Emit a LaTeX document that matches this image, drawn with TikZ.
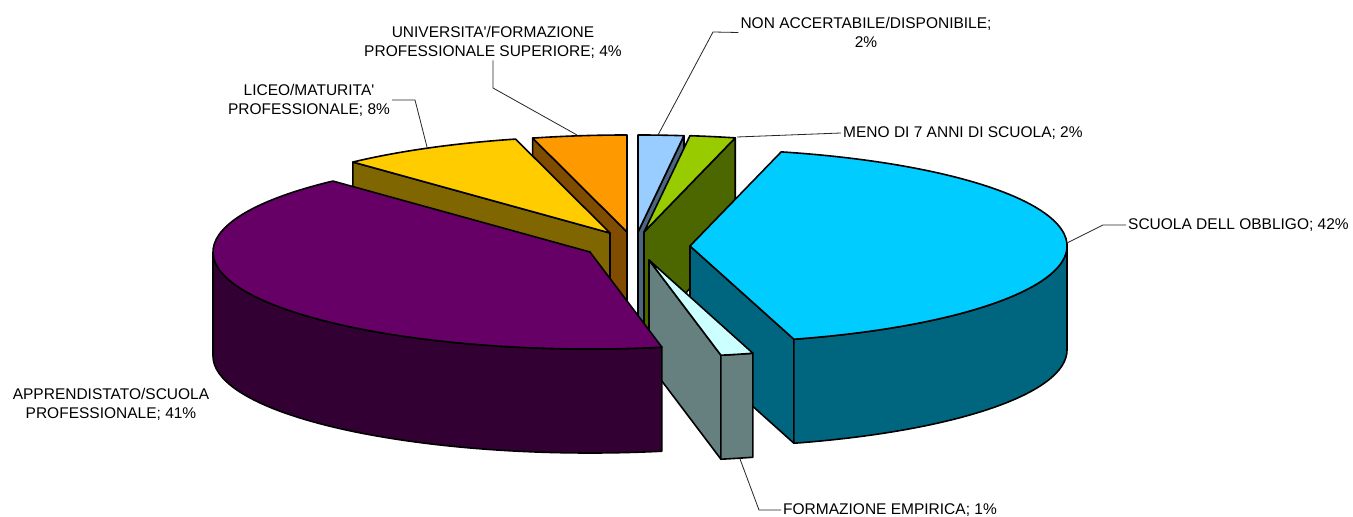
\documentclass[tikz,border=0pt]{standalone}
\usepackage{fontspec}
\setmainfont{Liberation Sans}
\usetikzlibrary{positioning}

\definecolor{topNO}{HTML}{99CCFF}
\definecolor{sideNO}{HTML}{4C6680}
\definecolor{topME}{HTML}{99CC00}
\definecolor{sideME}{HTML}{4C6600}
\definecolor{topSC}{HTML}{00CCFF}
\definecolor{sideSC}{HTML}{006680}
\definecolor{topEM}{HTML}{CCFFFF}
\definecolor{sideEM}{HTML}{668080}
\definecolor{topAP}{HTML}{660066}
\definecolor{sideAP}{HTML}{330033}
\definecolor{topLI}{HTML}{FFCC00}
\definecolor{sideLI}{HTML}{806600}
\definecolor{topUN}{HTML}{FF9900}
\definecolor{sideUN}{HTML}{804C00}

\tikzset{
  face/.style={draw=black, line width=1.6pt, line join=round},
  lbl/.style={inner sep=2pt, align=center, font=\fontsize{15.5}{19}\selectfont},
  leader/.style={draw=black!85, line width=0.8pt},
}

\newcommand\topface[3]{\filldraw[face, fill=#3] (0,0) -- (#1:377 and 97) arc[start angle=#1, end angle=#2, x radius=377, y radius=97] -- cycle;}
\newcommand\radface[2]{\filldraw[face, fill=#2] (0,0) -- (#1:377 and 97) -- ++(0,-104) -- (0,-104) -- cycle;}
\newcommand\rimface[3]{\filldraw[face, fill=#3] (#1:377 and 97) arc[start angle=#1, end angle=#2, x radius=377, y radius=97] -- ++(0,-104) arc[start angle=#2, end angle=#1, x radius=377, y radius=97] -- cycle;}

\begin{document}
\begin{tikzpicture}[x=1pt, y=1pt]
\path[use as bounding box, fill=white] (0,0) rectangle (1353,517);

% slices, back to front
\begin{scope}[shift={(638,285)}]
\radface{83}{sideNO}
\topface{83}{90}{topNO}
\end{scope}
\begin{scope}[shift={(627,285)}]
\radface{104.5}{sideUN}
\topface{90}{104.5}{topUN}
\end{scope}
\begin{scope}[shift={(610,284)}]
\radface{133}{sideLI}
\topface{104.5}{133}{topLI}
\end{scope}
\begin{scope}[shift={(644,285)}]
\radface{76}{sideME}
\topface{76}{83}{topME}
\end{scope}
\begin{scope}[shift={(690,271)}]
\radface{-74}{sideSC}
\rimface{-74}{0}{sideSC}
\topface{-74}{76}{topSC}
\end{scope}
\begin{scope}[shift={(649,257)}]
\radface{-79}{sideEM}
\rimface{-79}{-74}{sideEM}
\topface{-79}{-74}{topEM}
\end{scope}
\begin{scope}[shift={(590,265)}]
\rimface{180}{281}{sideAP}
\topface{133}{281}{topAP}
\end{scope}

% labels
\node[lbl] (L1) at (866,484.5) {NON ACCERTABILE/DISPONIBILE;\\2\%};
\node[lbl, anchor=west] (L2) at (841,384) {MENO DI 7 ANNI DI SCUOLA; 2\%};
\node[lbl] (L3) at (111,113) {APPRENDISTATO/SCUOLA\\PROFESSIONALE; 41\%};
\node[lbl, anchor=west] (L4) at (781,7) {FORMAZIONE EMPIRICA; 1\%};
\node[lbl, anchor=west] (L5) at (1126,292) {SCUOLA DELL OBBLIGO; 42\%};
\node[lbl] (L6) at (309,417) {LICEO/MATURITA\textquotesingle\\PROFESSIONALE; 8\%};
\node[lbl] (L7) at (493,475) {UNIVERSITA\textquotesingle/FORMAZIONE\\PROFESSIONALE SUPERIORE; 4\%};

% leader lines
\coordinate (A1) at (658,382);
\coordinate (K1) at (713,485);
\coordinate (A2) at (737,380);
\coordinate (A4) at (740,58);
\coordinate (K4) at (759,7);
\coordinate (A5) at (1067,274);
\coordinate (K5) at (1103,292);
\coordinate (A6) at (427,370);
\coordinate (K6) at (415,417);
\coordinate (A7) at (577,382);
\coordinate (K7) at (493,429);
\draw[leader] (L1.west) -- (K1) -- (A1);
\draw[leader] (L2.west) -- (A2);
\draw[leader] (L4.west) -- (K4) -- (A4);
\draw[leader] (L5.west) -- (K5) -- (A5);
\draw[leader] (L6.east) -- (K6) -- (A6);
\draw[leader] (L7.south) -- (K7) -- (A7);
\end{tikzpicture}
\end{document}
